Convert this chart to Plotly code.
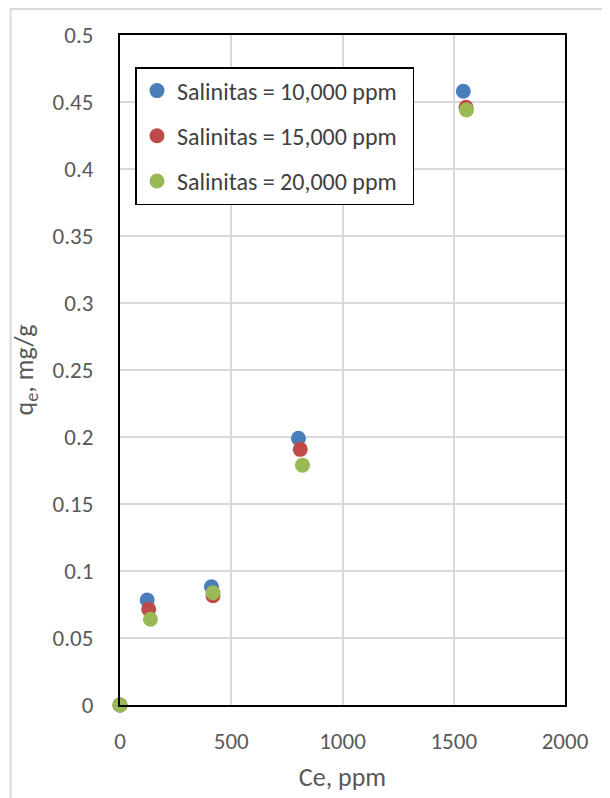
import plotly.graph_objects as go

series_names = ["Salinitas = 10,000 ppm", "Salinitas = 15,000 ppm", "Salinitas = 20,000 ppm"]
colors = ["#4a7ebb", "#be4b48", "#98b954"]

ce_10k = [0, 122, 411, 802, 1543]
qe_10k = [0, 0.0784, 0.0883, 0.199, 0.458]
ce_15k = [0, 129, 418, 810, 1555]
qe_15k = [0, 0.0714, 0.0815, 0.1908, 0.446]
ce_20k = [0, 137, 418, 820, 1557]
qe_20k = [0, 0.064, 0.0838, 0.179, 0.444]

xs = [ce_10k, ce_15k, ce_20k]
ys = [qe_10k, qe_15k, qe_20k]

x_ticks = [0, 500, 1000, 1500, 2000]
y_ticks = [0, 0.05, 0.1, 0.15, 0.2, 0.25, 0.3, 0.35, 0.4, 0.45, 0.5]
y_tick_labels = ["0", "0.05", "0.1", "0.15", "0.2", "0.25", "0.3", "0.35", "0.4", "0.45", "0.5"]

FONT = "Carlito, Calibri, Lato, sans-serif"

W, H = 602, 790
L, R, T, B = 111.5, 45, 27, 93
pw = W - L - R
ph = H - T - B

fig = go.Figure()
for i, (name, c, x, y) in enumerate(zip(series_names, colors, xs, ys)):
    fig.add_trace(go.Scatter(x=x, y=y, mode="markers", name=name + "\u00a0\u00a0",
                             legendgroup=f"g{i}",
                             marker=dict(color=c, size=15, line=dict(width=0)),
                             cliponaxis=False))

fig.update_layout(
    width=W, height=H,
    margin=dict(l=L, r=R, t=T, b=B),
    paper_bgcolor="white", plot_bgcolor="white",
    font=dict(family=FONT, size=23, color="#595959"),
    showlegend=True,
    legend=dict(x=(135 - 8 - L) / pw, y=1 - (67 - 8 - T) / ph, xanchor="left", yanchor="top",
                bgcolor="white", bordercolor="black", borderwidth=1.5,
                font=dict(family=FONT, size=24, color="#404040"),
                itemsizing="trace", tracegroupgap=11,
                itemwidth=30),
    xaxis=dict(range=[0, 2000], tickvals=x_ticks, showgrid=True, gridcolor="#d9d9d9",
               gridwidth=2, zeroline=False, showline=True, linecolor="black", linewidth=2,
               mirror=True, ticks="", ticklabelstandoff=14,
               title=dict(text="Ce, ppm", font=dict(family=FONT, size=26, color="#595959"), standoff=14)),
    yaxis=dict(range=[0, 0.5], tickvals=y_ticks, ticktext=y_tick_labels, showgrid=True,
               gridcolor="#d9d9d9", gridwidth=2, zeroline=False, showline=True,
               linecolor="black", linewidth=2, mirror=True, ticks="", ticklabelstandoff=20,
               title=dict(text="q<sub>e</sub>, mg/g", font=dict(family=FONT, size=26, color="#595959"), standoff=14)),
)

# light outer chart-area border (left and top edges visible)
fig.add_shape(type="rect", xref="paper", yref="paper",
              x0=(2 - L) / pw, x1=1.3, y0=-0.3, y1=(ph + T - 1) / ph,
              line=dict(color="#d9d9d9", width=2), layer="below")

fig.write_html("out.html")
